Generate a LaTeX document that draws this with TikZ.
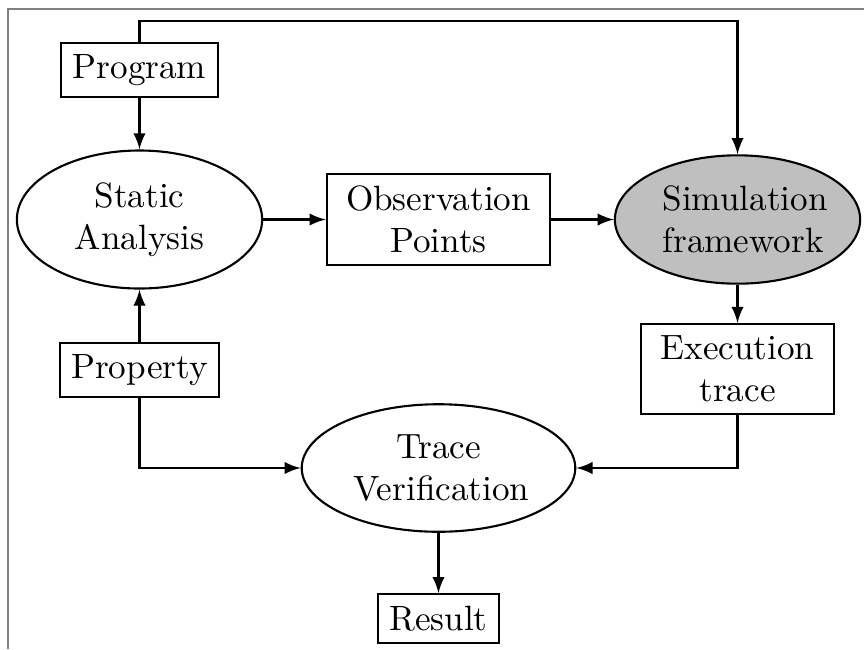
\documentclass[tikz,border=0pt]{standalone}
\usetikzlibrary{shapes.geometric,arrows}

\begin{document}
\begin{tikzpicture}[
        >=latex,
        semithick,
        box/.style={draw, rectangle, align=center},
        oval/.style={draw, ellipse, align=center},
        flow/.style={->, semithick},
        frameline/.style={draw=gray, thin}
    ]

    \useasboundingbox (0,0) rectangle (8.64,-6.49);
    \draw[frameline] (0.08,-6.49) -- (0.08,-0.09) -- (8.64,-0.09);

    % nodes
    \node[box] (program) at (1.395,-0.70) {Program};
    \node[oval, text width=1.5cm] (static) at (1.395,-2.195) {Static\\Analysis};
    \node[box] (property) at (1.395,-3.70) {Property};
    \node[box, text width=2cm] (obs) at (4.385,-2.195) {Observation\\Points};
    \node[oval, fill=lightgray, text width=1.5cm] (sim) at (7.375,-2.195) {Simulation\\framework};
    \node[box, text width=1.7cm] (exec) at (7.375,-3.69) {Execution\\trace};
    \node[oval, text width=1.7cm] (trace) at (4.385,-4.68) {Trace\\Verification};
    \node[box] (result) at (4.385,-6.185) {Result};

    % connectors
    \draw[flow] (program) -- (static);
    \draw[flow] (program.north) |- (4.0,-0.21) -| (sim.north);
    \draw[flow] (static) -- (obs);
    \draw[flow] (obs) -- (sim);
    \draw[flow] (sim) -- (exec);
    \draw[flow] (property) -- (static);
    \draw[flow] (property.south) |- (trace.west);
    \draw[flow] (exec.south) |- (trace.east);
    \draw[flow] (trace) -- (result);
\end{tikzpicture}
\end{document}
